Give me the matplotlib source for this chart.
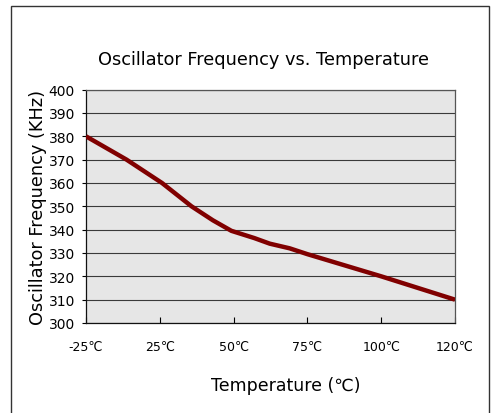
"""Oscillator frequency vs. temperature chart."""

import matplotlib.pyplot as plt
from matplotlib.patches import Rectangle

plt.rcParams['font.family'] = ['DejaVu Sans', 'Noto Sans CJK SC']

# category labels on the x axis (evenly spaced)
categories = ["-25℃", "25℃", "50℃", "75℃", "100℃", "120℃"]
# curve traced in category units (0 = -25℃ ... 5 = 120℃)
curve_pos = [0.0, 0.55, 1.03, 1.43, 1.72, 1.97, 2.28, 2.49, 2.76, 3.0, 4.0, 5.0]
curve_khz = [380, 370, 360, 350, 344, 339.5, 336.4, 334, 332, 329.5, 320, 310]
y_ticks = list(range(300, 401, 10))


def main() -> None:
    fig = plt.figure(figsize=(5.0, 4.14), dpi=100)
    fig.patches.append(Rectangle((11 / 500, -0.05), 478 / 500, 1.05 - 7 / 414,
                                 transform=fig.transFigure, fill=False,
                                 edgecolor='#333333', linewidth=1.0))

    ax = fig.add_axes([0.172, 0.2174, 0.738, 0.5636])
    ax.set_facecolor('#e6e6e6')
    for y in y_ticks:
        ax.axhline(y, color='#3a3a3a', linewidth=0.8, zorder=1)
    ax.plot(curve_pos, curve_khz, color='#800000', linewidth=3.2,
            solid_capstyle='butt', zorder=3)

    ax.set_xlim(0, len(categories) - 1)
    ax.set_ylim(300, 400)
    ax.set_xticks(range(len(categories)))
    ax.set_xticklabels(categories, fontsize=9)
    ax.set_yticks(y_ticks)
    ax.tick_params(axis='y', labelsize=10, length=3, width=0.8, pad=5)
    ax.tick_params(axis='x', direction='in', length=4, width=0.8, pad=12)
    for side in ax.spines.values():
        side.set_color('#555555')
        side.set_linewidth(0.9)
    ax.spines['left'].set_color('#111111')
    ax.spines['bottom'].set_color('#111111')

    ax.set_ylabel("Oscillator Frequency (KHz)", fontsize=12.8, labelpad=1)
    ax.set_xlabel("Temperature (℃)", fontsize=12.5)
    ax.xaxis.set_label_coords(0.542, -0.227)
    fig.text(0.526, 1 - 60 / 414, "Oscillator Frequency vs. Temperature",
             ha='center', va='center', fontsize=12.8)

    fig.savefig("out.png", dpi=100)
    plt.close(fig)


if __name__ == "__main__":
    main()
